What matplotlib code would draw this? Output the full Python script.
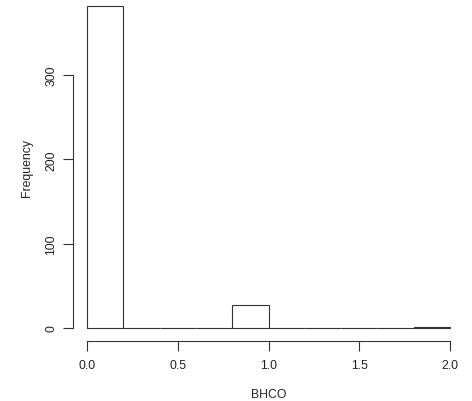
import numpy as np
import matplotlib.pyplot as plt

plt.rcParams['font.family'] = ['Liberation Sans', 'DejaVu Sans']

# histogram of BHCO, bin width 0.2
bin_edges = [0.0, 0.2, 0.4, 0.6, 0.8, 1.0, 1.2, 1.4, 1.6, 1.8, 2.0]
counts = [382, 0, 0, 0, 27, 0, 0, 0, 0, 1]
x_ticks = [0.0, 0.5, 1.0, 1.5, 2.0]
y_ticks = [0, 100, 200, 300]

fig = plt.figure(figsize=(4.72, 4.02), dpi=100)
# plot region placed the way R's hist() does it (4% padding on each axis)
ax = fig.add_axes([0.154, 0.1495, 0.830, 0.865])

edges = np.array(bin_edges)
ax.bar(edges[:-1], counts, width=np.diff(edges), align='edge',
       facecolor='white', edgecolor='#333333', linewidth=0.8)

xr = edges[-1] - edges[0]
ax.set_xlim(edges[0] - 0.04 * xr, edges[-1] + 0.04 * xr)
ymax = max(counts)
ax.set_ylim(-0.04 * ymax, ymax * 1.04)

for s in ['top', 'right']:
    ax.spines[s].set_visible(False)
ax.spines['left'].set_bounds(y_ticks[0], y_ticks[-1])
ax.spines['bottom'].set_bounds(x_ticks[0], x_ticks[-1])
for s in ['left', 'bottom']:
    ax.spines[s].set_linewidth(0.8)
    ax.spines[s].set_color('#333333')

ax.set_xticks(x_ticks)
ax.set_xticklabels(['%.1f' % v for v in x_ticks])
ax.set_yticks(y_ticks)
ax.set_yticklabels([str(v) for v in y_ticks], rotation=90, va='center')
ax.tick_params(length=7, width=0.8, color='#333333', labelsize=8.8,
               labelcolor='#222222')
ax.tick_params(axis='x', pad=6)
ax.tick_params(axis='y', pad=4)

ax.set_xlabel('BHCO', fontsize=8.8, color='#222222', labelpad=12)
ax.set_ylabel('Frequency', fontsize=8.8, color='#222222', labelpad=9)

fig.savefig('out.png', dpi=100)
